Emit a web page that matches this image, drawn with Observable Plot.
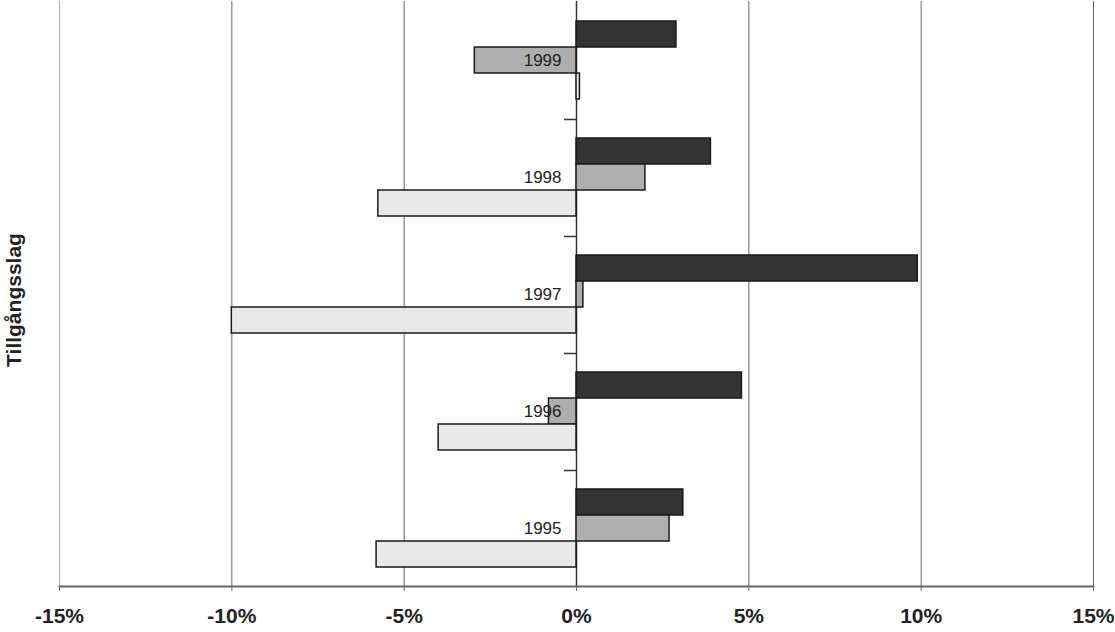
<!DOCTYPE html>
<html><head><meta charset="utf-8">
<script src="https://cdn.jsdelivr.net/npm/d3@7"></script>
<script src="https://cdn.jsdelivr.net/npm/@observablehq/plot@0.6"></script>
<style>
body{margin:0;background:#fff;}
#chart{position:relative;width:1115px;height:632px;}
</style>
</head><body><div id="chart"></div>
<script>
const years = [1999, 1998, 1997, 1996, 1995];
const series = ["Serie A", "Serie B", "Serie C"];
const valuesA = [2.9, 3.9, 9.9, 4.8, 3.1];
const valuesB = [-2.95, 2.0, 0.2, -0.8, 2.7];
const valuesC = [0.1, -5.75, -10.0, -4.0, -5.8];
const xTicks = [-15, -10, -5, 0, 5, 10, 15];
const colors = ["#333333", "#aeaeae", "#e8e8e8"];
const axisTitle = "Tillgångsslag";

const seriesValues = [valuesA, valuesB, valuesC];
const table = [];
years.forEach((yr, i) => series.forEach((s, j) => table.push({year: yr, series: s, value: seriesValues[j][i]})));

const chart = Plot.plot({
  width: 1115, height: 632,
  marginLeft: 59, marginRight: 22, marginTop: 0, marginBottom: 45,
  style: {fontFamily: "'Liberation Sans', Arial, sans-serif", background: "#fff", color: "#222"},
  x: {domain: [-15, 15], axis: null},
  y: {domain: series, paddingInner: 0, paddingOuter: 0.72, axis: null},
  fy: {domain: years, padding: 0, axis: null},
  color: {domain: series, range: colors},
  marks: [
    Plot.ruleX(xTicks, {stroke: d => d === -15 ? "#aaa" : "#666", strokeWidth: 1}),
    Plot.ruleX([0], {stroke: "#333", strokeWidth: 1.5}),
    Plot.ruleY(years.slice(1), {fy: d => d, y: () => series[0], x1: -0.35, x2: 0, dy: -32, stroke: "#333", strokeWidth: 1.5}),
    Plot.barX(table, {fy: "year", y: "series", x1: 0, x2: "value", fill: "series", stroke: "#1a1a1a", strokeWidth: 1.5}),
    Plot.text(years, {fy: d => d, y: () => series[1], x: 0, text: d => String(d), textAnchor: "end", dx: -15, fontSize: 17, fill: "#222"}),
    Plot.frame({anchor: "bottom", facetAnchor: "bottom", stroke: "#666", strokeWidth: 2}),
    Plot.axisX({ticks: xTicks, tickFormat: d => d + "%", tickSize: 5, tickPadding: 17, fontSize: 21, fontWeight: "bold", label: null, stroke: "#666"})
  ]
});
document.getElementById("chart").appendChild(chart);

d3.select(chart).append("text")
  .attr("transform", "translate(21,300) rotate(-90)")
  .attr("text-anchor", "middle")
  .attr("font-family", "'Liberation Sans', Arial, sans-serif")
  .attr("font-size", 21)
  .attr("font-weight", "bold")
  .attr("fill", "#222")
  .text(axisTitle);
</script>
</body></html>
